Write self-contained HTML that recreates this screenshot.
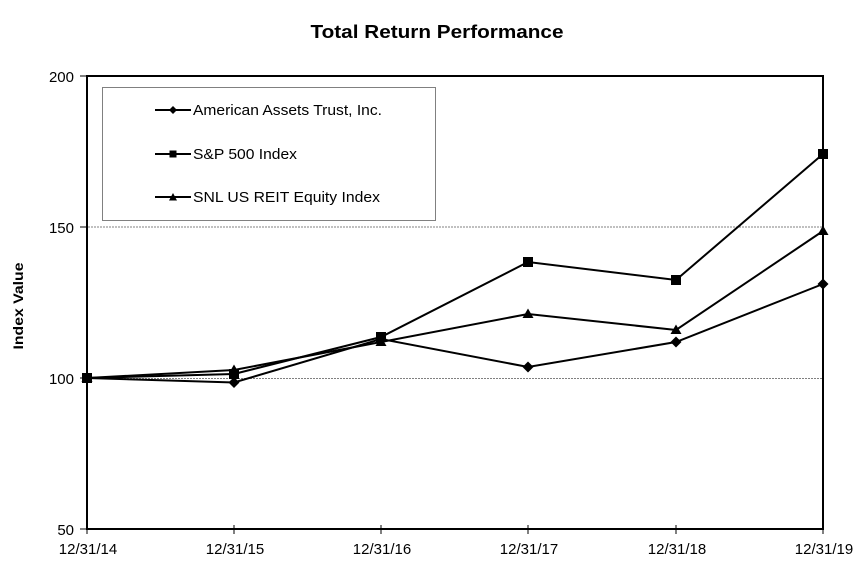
<!DOCTYPE html>
<html><head><meta charset="utf-8"><style>
html,body{margin:0;padding:0;background:#fff;}
svg{display:block;font-family:"Liberation Sans",Arial,sans-serif;}
</style></head><body>
<svg width="864" height="577" viewBox="0 0 864 577" xmlns="http://www.w3.org/2000/svg">
<rect width="864" height="577" fill="#fff"/>
<text x="437" y="38" text-anchor="middle" font-size="18" font-weight="bold" textLength="253" lengthAdjust="spacingAndGlyphs">Total Return Performance</text>
<!-- gridlines -->
<line x1="88" y1="227" x2="822" y2="227" stroke="#808080" stroke-width="1" stroke-dasharray="2,1"/>
<line x1="88" y1="378.5" x2="822" y2="378.5" stroke="#808080" stroke-width="1" stroke-dasharray="2,1"/>
<!-- plot frame -->
<rect x="87" y="76" width="736" height="453" fill="none" stroke="#000" stroke-width="2"/>
<!-- ticks -->
<g stroke="#000" stroke-width="1">
<line x1="80" y1="76" x2="87" y2="76"/>
<line x1="80" y1="227" x2="87" y2="227"/>
<line x1="80" y1="378" x2="87" y2="378"/>
<line x1="80" y1="529" x2="87" y2="529"/>
<line x1="87" y1="525" x2="87" y2="534"/>
<line x1="234" y1="525" x2="234" y2="534"/>
<line x1="381" y1="525" x2="381" y2="534"/>
<line x1="528" y1="525" x2="528" y2="534"/>
<line x1="676" y1="525" x2="676" y2="534"/>
<line x1="823" y1="525" x2="823" y2="534"/>
</g>
<g font-size="15" text-anchor="end">
<text x="74" y="82">200</text>
<text x="74" y="233">150</text>
<text x="74" y="384">100</text>
<text x="74" y="535">50</text>
</g>
<g font-size="15" text-anchor="middle">
<text x="88" y="554">12/31/14</text>
<text x="235" y="554">12/31/15</text>
<text x="382" y="554">12/31/16</text>
<text x="529" y="554">12/31/17</text>
<text x="677" y="554">12/31/18</text>
<text x="824" y="554">12/31/19</text>
</g>
<text transform="translate(23,306) rotate(-90)" text-anchor="middle" font-size="14" font-weight="bold" textLength="87" lengthAdjust="spacingAndGlyphs">Index Value</text>
<!-- series -->
<g fill="none" stroke="#000" stroke-width="2" stroke-linejoin="miter">
<polyline points="87,378 234,382.5 381,339 528,367 676,342 823,284"/>
<polyline points="87,378 234,374 381,337 528,262 676,280 823,154"/>
<polyline points="87,378 234,370 381,342 528,314 676,330 823,231"/>
</g>
<g fill="#000">
<!-- diamonds AAT -->
<path d="M87,372.5 L92.5,378 L87,383.5 L81.5,378Z"/>
<path d="M234,377 L239.5,382.5 L234,388 L228.5,382.5Z"/>
<path d="M381,333.5 L386.5,339 L381,344.5 L375.5,339Z"/>
<path d="M528,361.5 L533.5,367 L528,372.5 L522.5,367Z"/>
<path d="M676,336.5 L681.5,342 L676,347.5 L670.5,342Z"/>
<path d="M823,278.5 L828.5,284 L823,289.5 L817.5,284Z"/>
<!-- squares S&P -->
<rect x="82" y="373" width="10" height="10"/>
<rect x="229" y="369" width="10" height="10"/>
<rect x="376" y="332" width="10" height="10"/>
<rect x="523" y="257" width="10" height="10"/>
<rect x="671" y="275" width="10" height="10"/>
<rect x="818" y="149" width="10" height="10"/>
<!-- triangles REIT -->
<path d="M87,372.5 L92.5,382 L81.5,382Z"/>
<path d="M234,364.5 L239.5,374 L228.5,374Z"/>
<path d="M381,336.5 L386.5,346 L375.5,346Z"/>
<path d="M528,308.5 L533.5,318 L522.5,318Z"/>
<path d="M676,324.5 L681.5,334 L670.5,334Z"/>
<path d="M823,225.5 L828.5,235 L817.5,235Z"/>
</g>
<!-- legend -->
<rect x="102.5" y="87.5" width="333" height="133" fill="#fff" stroke="#808080" stroke-width="1"/>
<g stroke="#000" stroke-width="2">
<line x1="155" y1="110" x2="191" y2="110"/>
<line x1="155" y1="154" x2="191" y2="154"/>
<line x1="155" y1="197" x2="191" y2="197"/>
</g>
<g fill="#000">
<path d="M173,106 L177,110 L173,114 L169,110Z"/>
<rect x="169.5" y="150.5" width="7" height="7"/>
<path d="M173,193 L177,200.5 L169,200.5Z"/>
</g>
<g font-size="15">
<text x="193" y="115" textLength="189" lengthAdjust="spacingAndGlyphs">American Assets Trust, Inc.</text>
<text x="193" y="159" textLength="104" lengthAdjust="spacingAndGlyphs">S&amp;P 500 Index</text>
<text x="193" y="202" textLength="187" lengthAdjust="spacingAndGlyphs">SNL US REIT Equity Index</text>
</g>
</svg>
</body></html>
